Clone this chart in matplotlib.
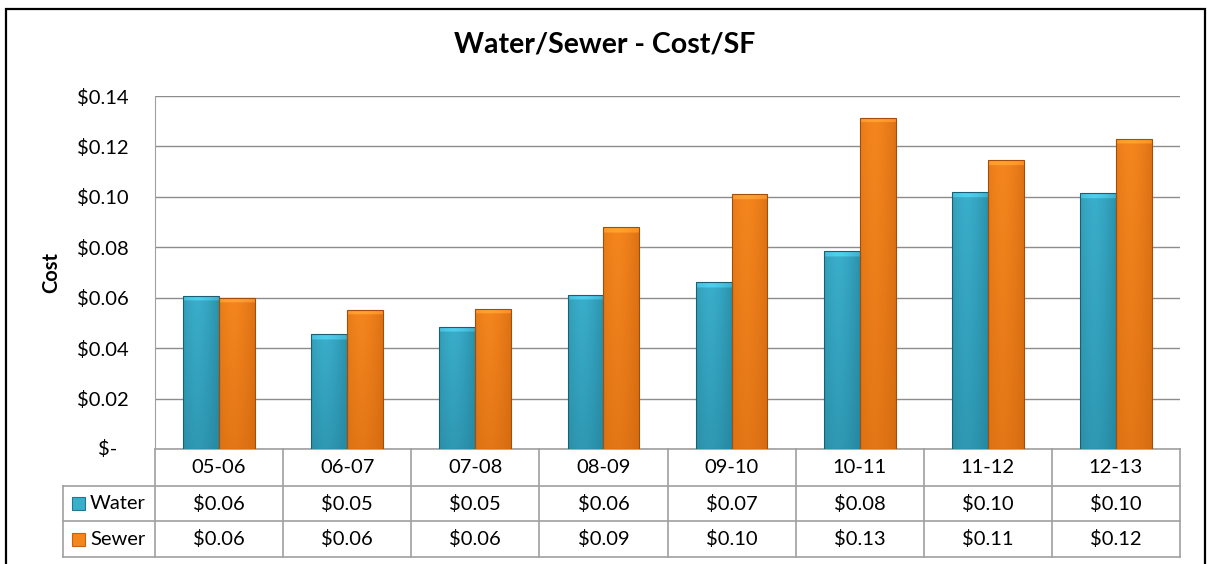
import matplotlib
matplotlib.use("Agg")
import matplotlib.pyplot as plt
import matplotlib.patches as patches
import numpy as np
from matplotlib.colors import to_rgb
from matplotlib.ticker import FuncFormatter

# data
years = ["05-06", "06-07", "07-08", "08-09", "09-10", "10-11", "11-12", "12-13"]
water = [0.0607, 0.0456, 0.0484, 0.0611, 0.0662, 0.0785, 0.1019, 0.1015]
sewer = [0.0599, 0.0552, 0.0556, 0.0880, 0.1011, 0.1313, 0.1146, 0.1230]
series_names = ["Water", "Sewer"]
yticks = [0, 0.02, 0.04, 0.06, 0.08, 0.10, 0.12, 0.14]

# light / dark tone for each series
tones = {
    "Water": ("#3AAECB", "#1F7890"),
    "Sewer": ("#F5861E", "#C9610B"),
}

FONT = ["Lato", "DejaVu Sans"]
plt.rcParams["font.family"] = FONT
FS = 14.5

W, H = 1207, 564
fig = plt.figure(figsize=(W / 100, H / 100), dpi=100)
ax = fig.add_axes([155 / W, 1 - 449 / H, 1025 / W, 353 / H])

ax.set_xlim(-0.5, len(years) - 0.5)
ax.set_ylim(0, 0.14)
ax.set_yticks(yticks)
# zero is written apart below (accounting style, set in from the right)
ax.yaxis.set_major_formatter(FuncFormatter(lambda v, p: "" if v == 0 else f"${v:.2f}"))
ax.tick_params(axis="y", length=0, pad=19, labelsize=FS)
ax.tick_params(axis="x", length=0, labelbottom=False)
ax.grid(axis="y", color="#8C8C8C", linewidth=1.0)
ax.set_axisbelow(True)
for s in ["top", "right", "bottom"]:
    ax.spines[s].set_visible(False)
ax.spines["left"].set_color("#A0A0A0")
ax.set_ylabel("Cost", fontsize=FS, fontweight="bold", labelpad=11)
ax.text((117 - 155) / 1025, 0, "$-", transform=ax.get_yaxis_transform(),
        ha="right", va="center", fontsize=FS)


def shaded_bar(x0, width, height, name):
    light, dark = (np.array(to_rgb(c)) for c in tones[name])
    rect = patches.Rectangle((x0, 0), width, height, facecolor="none",
                             edgecolor=dark * 0.8, linewidth=0.8, zorder=4)
    ax.add_patch(rect)
    nx, ny = 40, 400
    u = np.linspace(0, 1, nx)
    v = np.linspace(0, 1, ny)  # 0 bottom, 1 top
    horiz = 1 - 0.55 * np.abs(u - 0.4) ** 1.5 * 2
    vert = 0.6 + 0.4 * v
    t = np.clip(np.outer(vert, horiz), 0, 1)
    img = dark[None, None, :] + (light - dark)[None, None, :] * t[:, :, None]
    # thin bevel at the top
    top_px = max(2, int(ny * 0.0022 / height))
    img[-top_px:, :, :] = np.clip(img[-top_px:, :, :] * 1.1 + 0.06, 0, 1)
    im = ax.imshow(img, extent=(x0, x0 + width, 0, height), origin="lower",
                   aspect="auto", zorder=3, interpolation="bilinear")
    im.set_clip_path(rect)


bw = 0.28
for i in range(len(years)):
    shaded_bar(i - bw, bw, water[i], "Water")
    shaded_bar(i, bw, sewer[i], "Sewer")

ax.set_xlim(-0.5, len(years) - 0.5)
ax.set_ylim(0, 0.14)

# data table under the plot
tc = "#A0A0A0"
row_y = [0, -0.1048, -0.204, -0.306]
lab_left = (63 - 155) / 1025
trans = ax.transAxes
n = len(years)

def hline(y, x0, x1):
    ax.add_line(plt.Line2D([x0, x1], [y, y], transform=trans, color=tc,
                           linewidth=1.2, clip_on=False))

def vline(x, y0, y1):
    ax.add_line(plt.Line2D([x, x], [y0, y1], transform=trans, color=tc,
                           linewidth=1.2, clip_on=False))

hline(row_y[0], 0, 1)
hline(row_y[1], lab_left, 1)
hline(row_y[2], lab_left, 1)
hline(row_y[3], lab_left, 1)
for k in range(n + 1):
    vline(k / n, row_y[0], row_y[3])
vline(lab_left, row_y[1], row_y[3])

for k, yr in enumerate(years):
    cx = (k + 0.5) / n
    ax.text(cx, (row_y[0] + row_y[1]) / 2, yr, transform=trans, ha="center",
            va="center", fontsize=FS)
    ax.text(cx, (row_y[1] + row_y[2]) / 2, f"${water[k]:.2f}", transform=trans,
            ha="center", va="center", fontsize=FS)
    ax.text(cx, (row_y[2] + row_y[3]) / 2, f"${sewer[k]:.2f}", transform=trans,
            ha="center", va="center", fontsize=FS)

for r, name in enumerate(series_names):
    yc = (row_y[r + 1] + row_y[r + 2]) / 2
    light, dark = tones[name]
    key_x = (72 - 155) / 1025
    key_w = 13 / 1025
    key_h = 13 / 353
    ax.add_patch(patches.Rectangle((key_x, yc - key_h / 2), key_w, key_h,
                                   transform=trans, facecolor=light,
                                   edgecolor=dark, linewidth=0.8, clip_on=False))
    ax.text((90 - 155) / 1025, yc, name, transform=trans, ha="left",
            va="center", fontsize=FS)

fig.text(605 / W, 1 - 45 / H, "Water/Sewer - Cost/SF", ha="center", va="center",
         fontsize=20.5, fontweight="bold")

# chart border
fig.add_artist(patches.Rectangle((6 / W, -0.05), 1199 / W, 1.05 - 9 / H,
                                 transform=fig.transFigure, fill=False,
                                 edgecolor="black", linewidth=1.6))

fig.savefig("out.png", dpi=100)
